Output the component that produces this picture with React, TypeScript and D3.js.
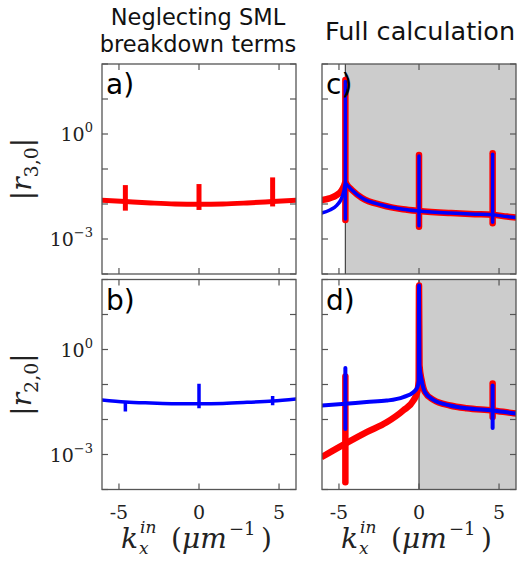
import React from "react";
import * as d3 from "d3";

// ---------- data (k_x^in in µm^-1, log10 |r|) ----------
type P = [number, number];
type S = [number, number, number]; // spike: k, low, high (log10)

const xTicks = [-5, 0, 5];
const yTickExps = [-4, -3, -2, -1, 0, 1, 2];
const yLabelExps = [0, -3];
const kDomain: [number, number] = [-6.06, 6.06];
const rDomain: [number, number] = [1e-4, 1e2];

// a) neglecting SML, |r_3,0|
const aRed: P[] = [
  [-6.1, -1.89], [-4.6, -1.93], [-3.0, -1.97], [-1.5, -2.0], [0, -2.01],
  [1.5, -2.0], [3.0, -1.97], [4.6, -1.93], [6.1, -1.89],
];
const aRedSpikes: S[] = [[-4.6, -2.19, -1.46], [0, -2.17, -1.43], [4.6, -2.07, -1.24]];

// b) neglecting SML, |r_2,0|
const bBlue: P[] = [
  [-6.1, -1.44], [-4.6, -1.5], [-3.0, -1.53], [-1.5, -1.55], [0, -1.55],
  [1.5, -1.54], [3.0, -1.51], [4.6, -1.47], [6.1, -1.41],
];
const bBlueSpikes: S[] = [[-4.6, -1.77, -1.5], [0, -1.68, -0.98], [4.6, -1.59, -1.33]];

// c) full calculation, |r_3,0|
const cRed: P[] = [
  [-6.1, -1.89], [-5.6, -1.84], [-5.12, -1.74], [-4.85, -1.62], [-4.68, -1.48], [-4.6, -1.38],
  [-4.5, -1.45], [-4.19, -1.6], [-3.56, -1.83], [-2.31, -2.03], [-1.0, -2.15], [0, -2.2],
  [2.0, -2.26], [3.5, -2.29], [4.6, -2.31], [5.5, -2.36], [6.1, -2.39],
];
const cBlue: P[] = [
  [-6.1, -2.26], [-5.6, -2.18], [-5.12, -2.03], [-4.85, -1.85], [-4.68, -1.6], [-4.6, -1.41],
  [-4.5, -1.45], [-4.19, -1.6], [-3.56, -1.83], [-2.31, -2.03], [-1.0, -2.15], [0, -2.2],
  [2.0, -2.26], [3.5, -2.29], [4.6, -2.31], [5.5, -2.36], [6.1, -2.39],
];
const cRedSpikes: S[] = [[-4.6, -2.46, 1.54], [0, -2.65, -0.6], [4.6, -2.55, -0.55]];
const cBlueSpikes: S[] = [[-4.6, -2.43, 1.5], [0, -2.62, -0.63], [4.6, -2.52, -0.58]];

// d) full calculation, |r_2,0|
const dRed: P[] = [
  [-6.1, -3.08], [-4.6, -2.69], [-3.27, -2.36], [-2.02, -2.08], [-0.98, -1.74],
  [-0.35, -1.46], [-0.1, -1.2], [-0.02, -0.9], [0, 1.83], [0.03, -0.45], [0.17, -0.89],
  [0.375, -1.22], [0.9, -1.44], [1.94, -1.6], [2.98, -1.68], [4.6, -1.74], [5.9, -1.82], [6.1, -1.83],
];
const dBlue: P[] = [
  [-6.1, -1.6], [-4.6, -1.55], [-3.27, -1.5], [-2.02, -1.46], [-0.98, -1.36],
  [-0.35, -1.22], [-0.1, -1.08], [-0.02, -0.9], [0, 1.83], [0.03, -0.45], [0.17, -0.89],
  [0.375, -1.22], [0.9, -1.44], [1.94, -1.6], [2.98, -1.68], [4.6, -1.74], [5.9, -1.82], [6.1, -1.83],
];
const dRedSpikes: S[] = [[-4.6, -3.79, -0.77], [4.6, -1.93, -0.97]];
const dBlueSpikes: S[] = [[-4.6, -2.27, -0.53], [4.6, -2.24, -1.03]];

const shadeC = -4.6;
const shadeD = 0;

// ---------- layout ----------
const W = 517;
const H = 570;
const cols = [102, 322];
const rows = [64, 279.5];
const PW = 194;
const PH = 210;
const FRAME = "#555";
const SERIF = "DejaVu Serif";
const SANS = "DejaVu Sans";

type Series = { data: P[]; spikes: S[]; color: string; width: number; cap: string };

function Panel({
  id, left, top, label, series, shade, showYLabels, showXLabels,
}: {
  id: string; left: number; top: number; label: string; series: Series[];
  shade: number | null; showYLabels: boolean; showXLabels: boolean;
}) {
  const x = d3.scaleLinear().domain(kDomain).range([left, left + PW]);
  const y = d3.scaleLog().domain(rDomain).range([top + PH, top]);
  const line = d3
    .line<P>()
    .x((d) => x(d[0]))
    .y((d) => y(Math.pow(10, d[1])))
    .curve(d3.curveMonotoneX);
  const tl = 6;
  return (
    <g>
      <defs>
        <clipPath id={`clip-${id}`}>
          <rect x={left} y={top} width={PW} height={PH} />
        </clipPath>
      </defs>
      <rect x={left} y={top} width={PW} height={PH} fill="white" />
      {shade !== null && (
        <g>
          <rect x={x(shade)} y={top} width={left + PW - x(shade)} height={PH} fill="#cccccc" />
          <line x1={x(shade)} x2={x(shade)} y1={top} y2={top + PH} stroke="#444" strokeWidth={1.2} />
        </g>
      )}
      {xTicks.map((t) => (
        <g key={`xt${t}`} stroke={FRAME} strokeWidth={1.2}>
          <line x1={x(t)} x2={x(t)} y1={top + PH} y2={top + PH - tl} />
          <line x1={x(t)} x2={x(t)} y1={top} y2={top + tl} />
        </g>
      ))}
      {yTickExps.map((e) => (
        <g key={`yt${e}`} stroke={FRAME} strokeWidth={1.2}>
          <line x1={left} x2={left + tl} y1={y(Math.pow(10, e))} y2={y(Math.pow(10, e))} />
          <line x1={left + PW} x2={left + PW - tl} y1={y(Math.pow(10, e))} y2={y(Math.pow(10, e))} />
        </g>
      ))}
      <g clipPath={`url(#clip-${id})`}>
        {series.map((s, i) => (
          <g key={i} stroke={s.color} fill="none">
            <path d={line(s.data) || ""} strokeWidth={s.width} strokeLinejoin="round" />
            {s.spikes.map((sp, j) => (
              <line
                key={j}
                x1={x(sp[0])}
                x2={x(sp[0])}
                y1={y(Math.pow(10, sp[1]))}
                y2={y(Math.pow(10, sp[2]))}
                strokeWidth={s.width}
                strokeLinecap={s.cap as any}
              />
            ))}
          </g>
        ))}
      </g>
      <rect x={left} y={top} width={PW} height={PH} fill="none" stroke={FRAME} strokeWidth={1.3} />
      <text x={left + 4} y={top + 30} fontFamily={SANS} fontSize={28} fill="#000">
        {label}
      </text>
      {showYLabels &&
        yLabelExps.map((e) => (
          <text
            key={`yl${e}`}
            x={left - 9}
            y={y(Math.pow(10, e)) + 7}
            textAnchor="end"
            fontFamily={SERIF}
            fontSize={19}
            fill="#222"
          >
            10
            <tspan dy={-9} fontSize={13}>
              {e < 0 ? `\u2212${-e}` : `${e}`}
            </tspan>
          </text>
        ))}
      {showXLabels &&
        xTicks.map((t) => (
          <text
            key={`xl${t}`}
            x={x(t)}
            y={top + PH + 29}
            textAnchor="middle"
            fontFamily={SERIF}
            fontSize={19}
            fill="#222"
          >
            {t < 0 ? `-${-t}` : `${t}`}
          </text>
        ))}
    </g>
  );
}

function YLabel({ cy, sub }: { cy: number; sub: string }) {
  return (
    <text
      transform={`translate(31,${cy}) rotate(-90)`}
      textAnchor="middle"
      fontFamily={SERIF}
      fontSize={28}
      fill="#222"
    >
      |<tspan fontStyle="italic">r</tspan>
      <tspan dy={7} fontSize={19}>{sub}</tspan>
      <tspan dy={-7}>|</tspan>
    </text>
  );
}

function XLabel({ cx }: { cx: number }) {
  const base = 548;
  const o = cx - 199; // offset relative to left column centre
  return (
    <g fontFamily={SERIF} fill="#222">
      <text x={o + 121} y={base} fontSize={28} fontStyle="italic">k</text>
      <text x={o + 140} y={base - 15} fontSize={17} fontStyle="italic">in</text>
      <text x={o + 139} y={base + 6} fontSize={17} fontStyle="italic">x</text>
      <text x={o + 171} y={base} fontSize={28}>(</text>
      <text x={o + 182} y={base} fontSize={28} fontStyle="italic">μm</text>
      <text x={o + 229} y={base - 13} fontSize={18}>{"\u22121"}</text>
      <text x={o + 261} y={base} fontSize={28}>)</text>
    </g>
  );
}

export default function App() {
  const red = "#ff0000";
  const blue = "#0000ff";
  return (
    <svg
      width={W}
      height={H}
      viewBox={`0 0 ${W} ${H}`}
      style={{ position: "absolute", left: 0, top: 0, background: "white" }}
    >
      <rect x={0} y={0} width={W} height={H} fill="white" />
      <text x={198} y={25} textAnchor="middle" fontFamily={SANS} fontSize={22.5} fill="#111">
        Neglecting SML
      </text>
      <text x={198} y={52} textAnchor="middle" fontFamily={SANS} fontSize={22.5} fill="#111">
        breakdown terms
      </text>
      <text x={420} y={40} textAnchor="middle" fontFamily={SANS} fontSize={25.5} fill="#111">
        Full calculation
      </text>

      <Panel id="a" left={cols[0]} top={rows[0]} label="a)" shade={null} showYLabels showXLabels={false}
        series={[{ data: aRed, spikes: aRedSpikes, color: red, width: 5, cap: "butt" }]} />
      <Panel id="b" left={cols[0]} top={rows[1]} label="b)" shade={null} showYLabels showXLabels
        series={[{ data: bBlue, spikes: bBlueSpikes, color: blue, width: 3.5, cap: "butt" }]} />
      <Panel id="c" left={cols[1]} top={rows[0]} label="c)" shade={shadeC} showYLabels={false} showXLabels={false}
        series={[
          { data: cRed, spikes: cRedSpikes, color: red, width: 6.5, cap: "round" },
          { data: cBlue, spikes: cBlueSpikes, color: blue, width: 3.5, cap: "round" },
        ]} />
      <Panel id="d" left={cols[1]} top={rows[1]} label="d)" shade={shadeD} showYLabels={false} showXLabels
        series={[
          { data: dRed, spikes: dRedSpikes, color: red, width: 6.5, cap: "round" },
          { data: dBlue, spikes: dBlueSpikes, color: blue, width: 4, cap: "round" },
        ]} />

      <YLabel cy={rows[0] + PH / 2} sub="3,0" />
      <YLabel cy={rows[1] + PH / 2} sub="2,0" />
      <XLabel cx={cols[0] + PW / 2} />
      <XLabel cx={cols[1] + PW / 2} />
    </svg>
  );
}
